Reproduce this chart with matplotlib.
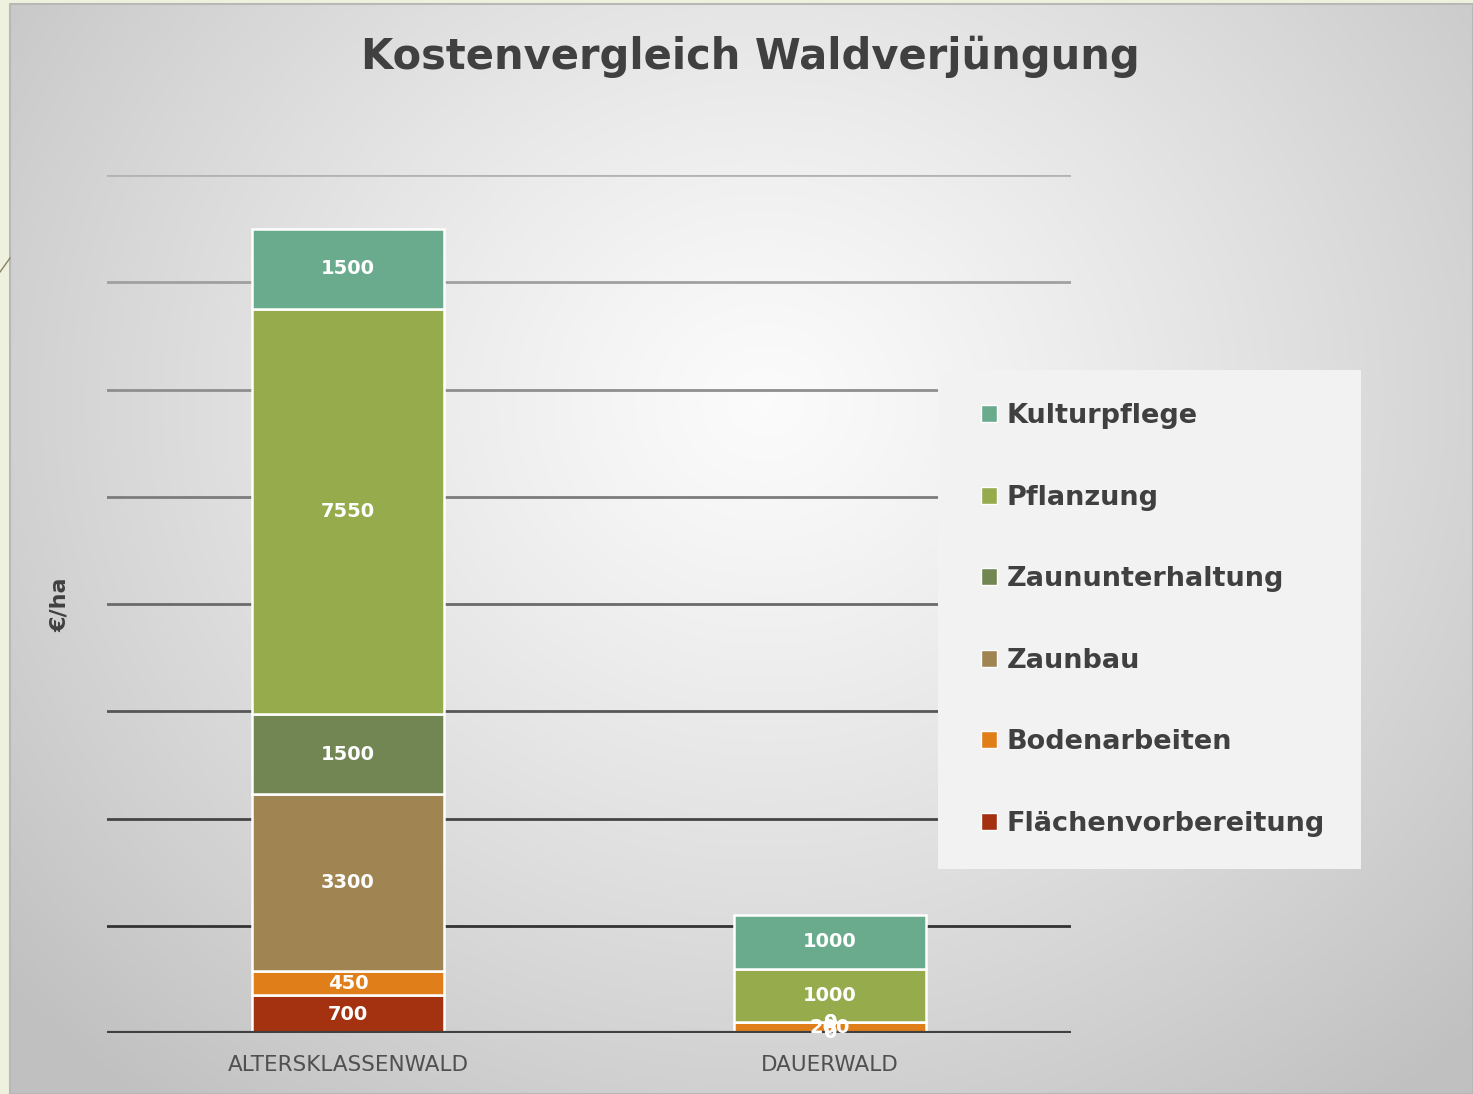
import numpy as np
import matplotlib.pyplot as plt
from matplotlib.patches import Patch, Rectangle
from matplotlib.lines import Line2D

# Data
categories = ["ALTERSKLASSENWALD", "DAUERWALD"]
series_names = ["Flächenvorbereitung", "Bodenarbeiten", "Zaunbau",
                "Zaununterhaltung", "Pflanzung", "Kulturpflege"]
flaechenvorbereitung = [700, 0]
bodenarbeiten = [450, 200]
zaunbau = [3300, 0]
zaununterhaltung = [1500, 0]
pflanzung = [7550, 1000]
kulturpflege = [1500, 1000]
y_ticks = list(range(0, 16001, 2000))

series_values = [flaechenvorbereitung, bodenarbeiten, zaunbau,
                 zaununterhaltung, pflanzung, kulturpflege]
colors = ["#A4310F", "#E07F1A", "#A08552", "#718652", "#96AB4C", "#6AAB8E"]

W, H = 1473, 1094
fig = plt.figure(figsize=(W / 100, H / 100), dpi=100)
fig.patch.set_facecolor("#EDF1DE")

# Background: radial gradient panel
bg = fig.add_axes([0, 0, 1, 1])
bg.set_xlim(0, W)
bg.set_ylim(H, 0)
bg.axis("off")
yy, xx = np.mgrid[0:H, 0:W]
r = np.sqrt(((xx - 760) / 1000.0) ** 2 + ((yy - 400) / 900.0) ** 2)
r = np.clip(r, 0, 1)
val = 0.985 - 0.23 * r ** 1.2
img = np.dstack([val, val, val])
bg.imshow(img, extent=(10, W, H, 4), zorder=0, aspect="auto")
bg.add_patch(Rectangle((10, 4), W - 10, H - 4, fill=False,
                       edgecolor="#b8b8b8", linewidth=1.5, zorder=1))
bg.add_line(Line2D([0, 10], [272, 258], color="#8a8060", linewidth=1))

# Main axes
ax = fig.add_axes([107 / W, 1 - 1033 / H, (1071 - 107) / W, (1033 - 175) / H])
ax.set_facecolor("none")
x = np.arange(len(categories))

# Gridlines, darker toward the bottom
for i, t in enumerate(y_ticks[1:]):
    f = i / (len(y_ticks) - 2)
    g = 0.2 + 0.5 * f
    ax.axhline(t, color=(g, g, g), linewidth=2, zorder=1)

bottom = np.zeros(len(categories))
containers = []
for name, vals, col in zip(series_names, series_values, colors):
    bars = ax.bar(x, vals, width=0.4, bottom=bottom, color=col,
                  edgecolor="white", linewidth=1.8, label=name, zorder=2)
    containers.append((bars, vals))
    bottom += np.array(vals)

for bars, vals in containers:
    ax.bar_label(bars, labels=[str(v) for v in vals], label_type="center",
                 color="white", fontsize=14, fontweight="bold", zorder=4)

ax.axhline(0, color="#404040", linewidth=3, zorder=3)

ax.set_xlim(-0.5, 1.5)
ax.set_ylim(0, 16000)
ax.set_yticks([])
ax.set_xticks(x)
ax.set_xticklabels(categories, fontsize=15.5, color="#505050")
ax.tick_params(axis="x", length=0, pad=16)
for s in ax.spines.values():
    s.set_visible(False)

fig.text(60 / W, 1 - 605 / H, "€/ha", rotation=90, ha="center", va="center",
         fontsize=16, fontweight="bold", color="#404040")

fig.text(750 / W, 1 - 57 / H, "Kostenvergleich Waldverjüngung",
         ha="center", va="center", fontsize=30, fontweight="bold",
         color="#404040")

# Legend
handles = [Patch(facecolor=c, edgecolor="white", label=n)
           for n, c in zip(series_names, colors)][::-1]
leg_ax = fig.add_axes([938 / W, 1 - 869 / H, (1361 - 938) / W, (869 - 370) / H])
leg_ax.set_facecolor("#F2F2F2")
leg_ax.set_xticks([])
leg_ax.set_yticks([])
for s in leg_ax.spines.values():
    s.set_visible(False)
leg = leg_ax.legend(handles=handles, loc="upper left", bbox_to_anchor=(0.075, 0.955),
                    frameon=False, prop={"size": 19.5, "weight": "bold"},
                    labelspacing=2.05, handlelength=0.6, handleheight=0.6,
                    handletextpad=0.35, borderaxespad=0)
for t in leg.get_texts():
    t.set_color("#404040")

fig.savefig("out.png", dpi=100)
